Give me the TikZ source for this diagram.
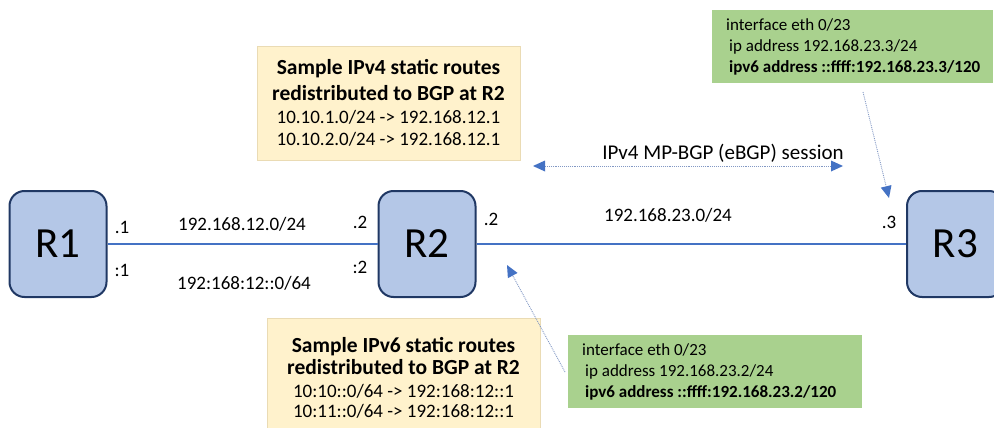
\documentclass[tikz,border=0pt]{standalone}
\usepackage{fontspec}
\setmainfont{Carlito}
\usetikzlibrary{arrows.meta}
\definecolor{routerfill}{HTML}{B4C7E7}
\definecolor{routerdraw}{HTML}{203864}
\definecolor{linkblue}{HTML}{4472C4}
\definecolor{noteyellow}{HTML}{FFF2CC}
\definecolor{noteyellowdraw}{HTML}{EADBB4}
\definecolor{notegreen}{HTML}{A9D18E}
\definecolor{dotblue}{HTML}{8298C4}
\tikzset{
  router/.style={draw=routerdraw, line width=2pt, fill=routerfill, rounded corners=15pt,
    minimum width=97pt, minimum height=106pt, inner sep=0pt, font=\fontsize{43}{48}\selectfont},
  link/.style={draw=linkblue, line width=2pt},
  lbl/.style={inner sep=0pt, font=\fontsize{19}{22}\selectfont},
  yellownote/.style={draw=noteyellowdraw, line width=0.6pt, fill=noteyellow, inner sep=0pt},
  ytitle/.style={inner sep=0pt, anchor=base, font=\fontsize{21.5}{26}\selectfont\bfseries},
  yroute/.style={inner sep=0pt, anchor=base, font=\fontsize{19}{22}\selectfont},
  greennote/.style={fill=notegreen, inner sep=0pt, anchor=north west},
  greentext/.style={inner sep=0pt, anchor=west, align=left, font=\fontsize{17}{21}\selectfont},
  dotarrow/.style={draw=dotblue, line width=0.9pt, densely dotted,
    -{Triangle[length=12pt,width=11pt,fill=linkblue,line width=0pt]}},
  dotarrows/.style={draw=dotblue, line width=0.9pt, densely dotted,
    {Triangle[length=12pt,width=11pt,fill=linkblue,line width=0pt]}-{Triangle[length=12pt,width=11pt,fill=linkblue,line width=0pt]}},
}
\begin{document}
\begin{tikzpicture}[x=1pt,y=-1pt]
\useasboundingbox (0,0) rectangle (994,428);

% routers
\node[router] (R1) at (58,244) {R1};
\node[router] (R2) at (427,244) {R2};
\node[router] (R3) at (955.5,244) {R3};

% links
\draw[link] (R1.east) -- (R2.west);
\draw[link] (R2.east) -- (R3.west);

% link labels
\node[lbl] (l11) at (122,227) {.1};
\node[lbl] (l12) at (122,270) {:1};
\node[lbl] (l21) at (360,222) {.2};
\node[lbl] (l22) at (360,267) {:2};
\node[lbl] (l23) at (491,219) {.2};
\node[lbl] (l3) at (889,222) {.3};
\node[lbl] (n4a) at (242,224) {192.168.12.0/24};
\node[lbl] (n6a) at (244,283) {192:168:12::0/64};
\node[lbl] (n4b) at (668,215) {192.168.23.0/24};

% BGP session
\coordinate (bgpL) at (533,166);
\coordinate (bgpR) at (843,166);
\draw[dotarrows] (bgpL) -- (bgpR);
\node[lbl, font=\fontsize{21}{25}\selectfont] (bgp) at (723,153) {IPv4 MP-BGP (eBGP) session};

% yellow notes
\node[yellownote, minimum width=263pt, minimum height=114pt] (y4) at (388.5,103) {};
\node[ytitle] (y4a) at (388.5,75) {Sample IPv4 static routes};
\node[ytitle] (y4b) at (388.5,100) {redistributed to BGP at R2};
\node[yroute] (y4c) at (388.5,123) {10.10.1.0/24 -> 192.168.12.1};
\node[yroute] (y4d) at (388.5,146) {10.10.2.0/24 -> 192.168.12.1};

\node[yellownote, minimum width=273pt, minimum height=118pt] (y6) at (403.5,377) {};
\node[ytitle] (y6a) at (403.5,352) {Sample IPv6 static routes};
\node[ytitle] (y6b) at (403.5,374) {redistributed to BGP at R2};
\node[yroute] (y6c) at (403.5,397) {10:10::0/64 -> 192:168:12::1};
\node[yroute] (y6d) at (403.5,417) {10:11::0/64 -> 192:168:12::1};

% green notes
\node[greennote, minimum width=281pt, minimum height=73pt] (g3) at (712,10) {};
\node[greentext] (g3t) at (726,47)
  {interface eth 0/23\\
   \hspace*{3pt}ip address 192.168.23.3/24\\
   \hspace*{3pt}\textbf{ipv6 address ::ffff:192.168.23.3/120}};
\node[greennote, minimum width=294pt, minimum height=73pt] (g2) at (568,335) {};
\node[greentext] (g2t) at (582,372)
  {interface eth 0/23\\
   \hspace*{3pt}ip address 192.168.23.2/24\\
   \hspace*{3pt}\textbf{ipv6 address ::ffff:192.168.23.2/120}};

% annotation arrows
\coordinate (g3tail) at (863,92);
\coordinate (g3tip) at (889,198);
\draw[dotarrow] (g3tail) -- (g3tip);
\coordinate (g2tail) at (565,372);
\coordinate (g2tip) at (507,265);
\draw[dotarrow] (g2tail) -- (g2tip);
\end{tikzpicture}
\end{document}
